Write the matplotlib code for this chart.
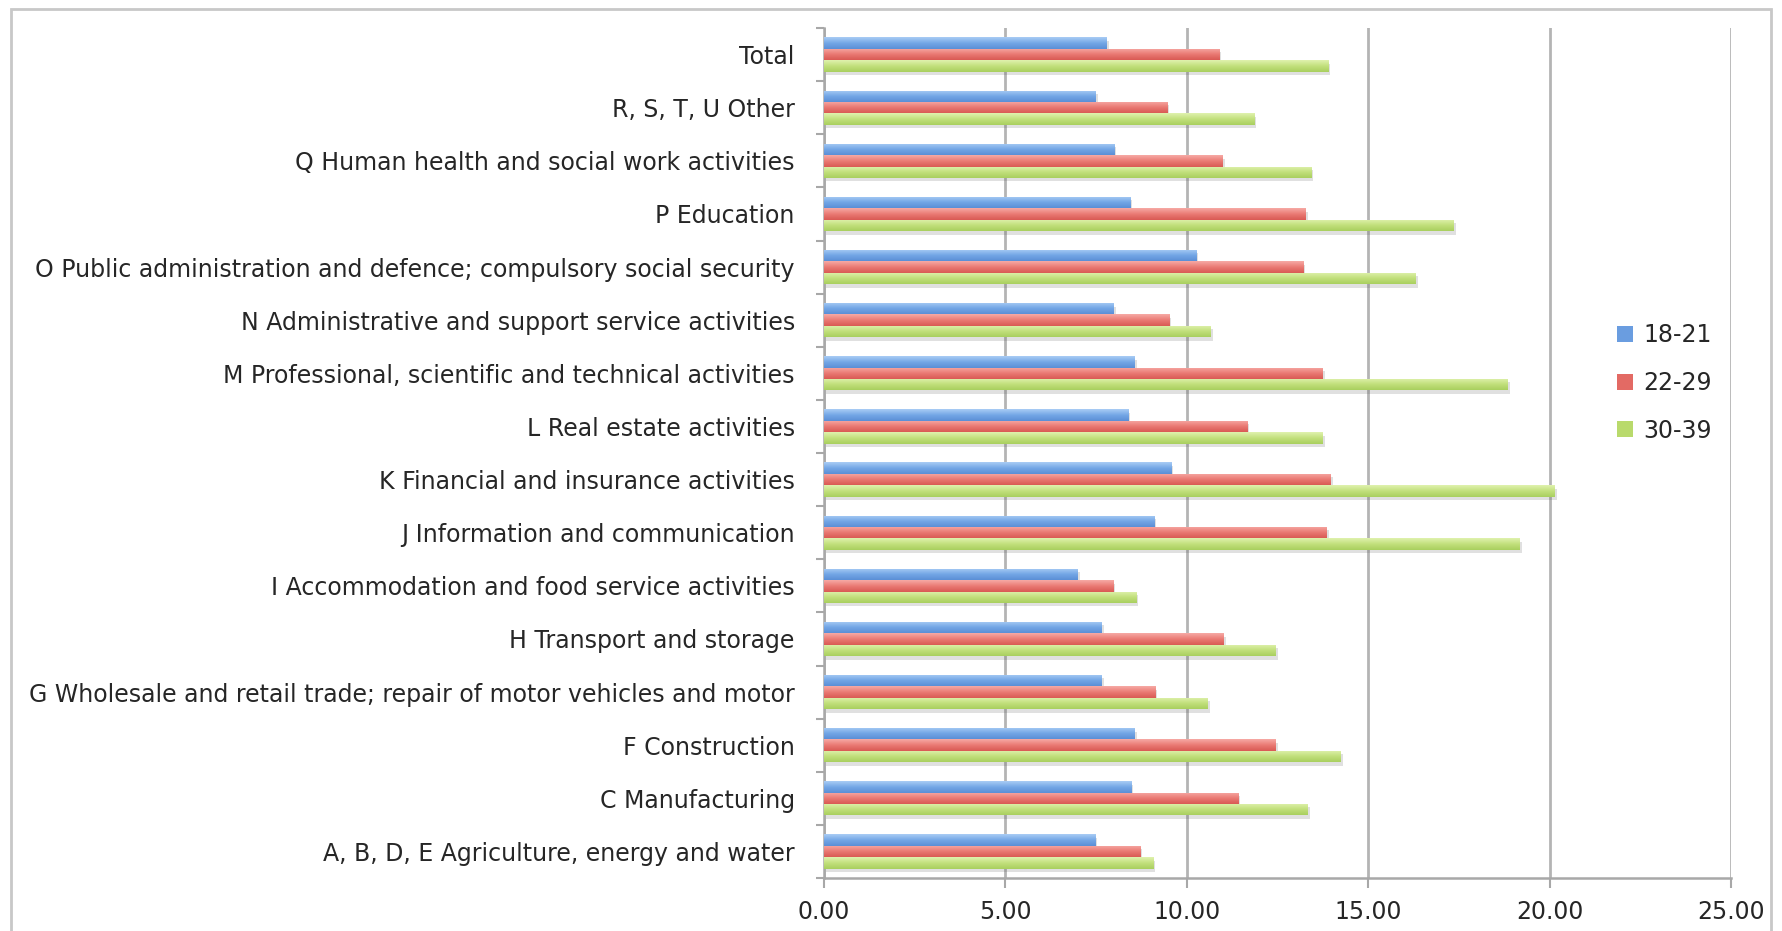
import numpy as np
import matplotlib
matplotlib.use("Agg")
import matplotlib.pyplot as plt
import matplotlib.patheffects as pe
from matplotlib.colors import LinearSegmentedColormap
from matplotlib.patches import Patch, Rectangle

# industries, bottom to top as they appear on the axis
categories = [
    "A, B, D, E Agriculture, energy and water",
    "C Manufacturing",
    "F Construction",
    "G Wholesale and retail trade; repair of motor vehicles and motor",
    "H Transport and storage",
    "I Accommodation and food service activities",
    "J Information and communication",
    "K Financial and insurance activities",
    "L Real estate activities",
    "M Professional, scientific and technical activities",
    "N Administrative and support service activities",
    "O Public administration and defence; compulsory social security",
    "P Education",
    "Q Human health and social work activities",
    "R, S, T, U Other",
    "Total",
]

age_18_21 = [7.47, 8.47, 8.56, 7.65, 7.65, 7.00, 9.10, 9.57, 8.38, 8.56, 7.99, 10.26, 8.44, 8.00, 7.49, 7.80]
age_22_29 = [8.72, 11.42, 12.45, 9.13, 11.01, 7.97, 13.86, 13.96, 11.67, 13.74, 9.51, 13.21, 13.27, 10.99, 9.46, 10.89]
age_30_39 = [9.07, 13.33, 14.24, 10.57, 12.45, 8.60, 19.17, 20.14, 13.74, 18.85, 10.66, 16.31, 17.35, 13.43, 11.86, 13.90]

# name, values, legend colour, gradient (top -> bottom)
series = [("18-21", age_18_21, "#6a9de0", ["#a9ccf5", "#74a7e6", "#5b8fd6"]),
          ("22-29", age_22_29, "#e36a64", ["#f6aaa5", "#ea7a74", "#d95a54"]),
          ("30-39", age_30_39, "#b9da6c", ["#e0f2ae", "#c2e07c", "#a9cf5e"])]

FS = 17
TXT = "#262626"

fig = plt.figure(figsize=(17.83, 9.31), dpi=100)
ax = fig.add_axes([824 / 1783, 1 - 878 / 931, (1731 - 824) / 1783, (878 - 28) / 931])

# outer chart border
fig.patches.append(Rectangle((11 / 1783, -0.01), (1771 - 11) / 1783, 1 - 9 / 931 + 0.01,
                             transform=fig.transFigure, fill=False,
                             edgecolor="#c8c8c8", linewidth=2, zorder=0))

y = np.arange(len(categories))
h = 0.215
grad = np.linspace(0, 1, 64).reshape(-1, 1)
shadow = [pe.SimplePatchShadow(offset=(1.5, -2.5), alpha=0.18, shadow_rgbFace="#555555"), pe.Normal()]
for i, (name, vals, col, stops) in enumerate(series):
    pos = y + (1 - i) * h
    bars = ax.barh(pos, vals, height=h, color=col, edgecolor="none", zorder=3, label=name)
    cmap = LinearSegmentedColormap.from_list(name, stops[::-1])
    for b in bars:
        b.set_path_effects(shadow)
        x0, y0 = b.get_x(), b.get_y()
        im = ax.imshow(grad, cmap=cmap, aspect="auto", interpolation="bilinear",
                       extent=(x0, x0 + b.get_width(), y0, y0 + b.get_height()),
                       origin="lower", zorder=4)
        im.set_clip_path(b)

ax.set_xlim(0, 25)
ax.set_ylim(-0.5, len(categories) - 0.5)
ax.set_xticks(np.arange(0, 26, 5))
ax.set_xticklabels([f"{v:.2f}" for v in np.arange(0, 26, 5)])
ax.set_yticks(y)
ax.set_yticklabels(categories)
ax.set_yticks(np.arange(-0.5, len(categories), 1), minor=True)

ax.grid(axis="x", color="#b4b4b4", linewidth=2, zorder=1)
for s in ["top", "right"]:
    ax.spines[s].set_visible(False)
for s in ["left", "bottom"]:
    ax.spines[s].set_color("#a8a8a8")
    ax.spines[s].set_linewidth(1.8)

ax.tick_params(axis="y", which="major", length=0, pad=21, labelsize=FS, labelcolor=TXT)
ax.tick_params(axis="y", which="minor", length=6, width=1.5, color="#a8a8a8")
ax.tick_params(axis="x", length=7, width=1.5, color="#a8a8a8", pad=9, labelsize=FS, labelcolor=TXT)

handles = [Patch(facecolor=c, edgecolor="none", label=n) for n, _, c, _ in series]
leg = ax.legend(handles=handles, loc="center left", bbox_to_anchor=(1596 / 1783, 1 - 383 / 931),
                bbox_transform=fig.transFigure, frameon=False, fontsize=FS,
                handlelength=0.65, handleheight=0.65, handletextpad=0.45, labelspacing=1.0)
for t in leg.get_texts():
    t.set_color(TXT)

fig.savefig("out.png", dpi=100, facecolor="white")
